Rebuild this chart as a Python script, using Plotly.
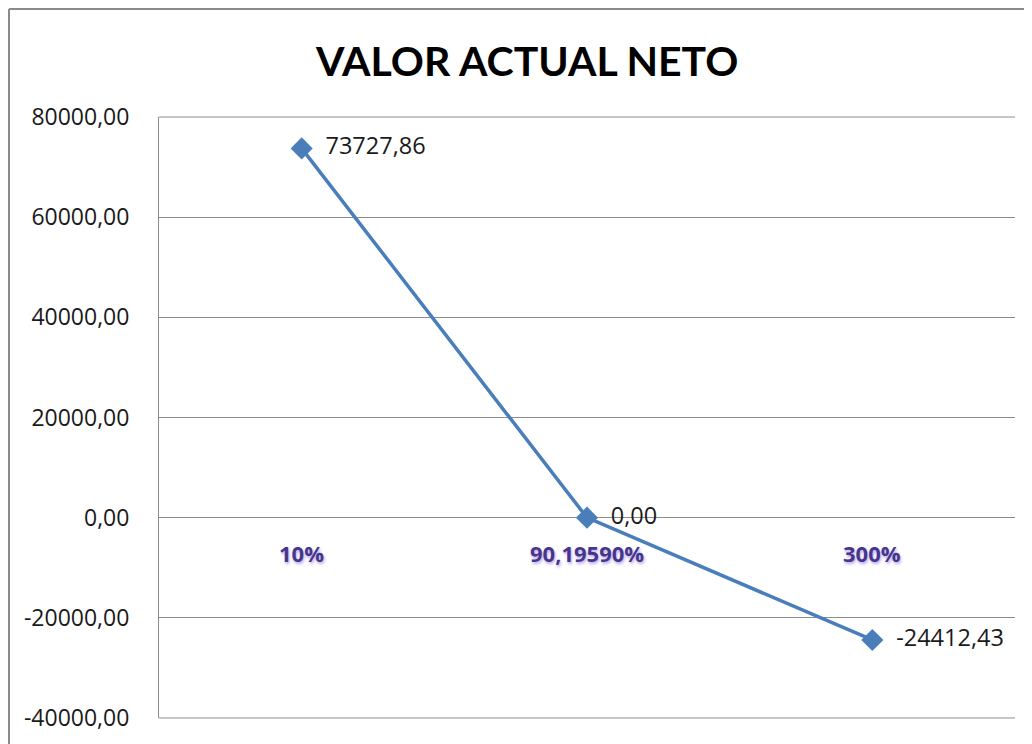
import plotly.graph_objects as go

categories = ["10%", "90,19590%", "300%"]
van_values = [73727.86, 0.00, -24412.43]
y_ticks = [-40000, -20000, 0, 20000, 40000, 60000, 80000]
title_text = "VALOR ACTUAL NETO"

# page has an 8px body margin; figure coordinates = page coordinates - 8
OFF = 8
W, H = 1024, 736
L, R, T, B = 159 - OFF, 17, 117 - OFF, 26
pw, ph = W - L - R, H - T - B

def px_x(p):
    return (p - OFF - L) / pw

def px_y(p):
    return (H - B - (p - OFF)) / ph

FONT = "Open Sans, Noto Sans, sans-serif"
tick_text = [("%.2f" % v).replace(".", ",") for v in y_ticks]

fig = go.Figure()
fig.add_trace(go.Scatter(
    x=categories, y=van_values, mode="lines+markers+text",
    line=dict(color="#4A7EBB", width=3.5),
    marker=dict(symbol="diamond", size=17, color="#4A7EBB"),
    texttemplate="  %{y:.2f}", textposition="middle right",
    textfont=dict(family=FONT, size=23.5, color="#1a1a1a"),
    cliponaxis=False, showlegend=False,
))

for c in categories:
    fig.add_annotation(x=c, y=0, xref="x", yref="y", text="<b>%s</b>" % c,
                       showarrow=False, yshift=-35,
                       font=dict(family=FONT, size=22, color="#45368C",
                                 shadow="1px 2px 3px #b9a6e6"))

fig.add_annotation(x=px_x(526), xref="paper", y=px_y(60), yref="paper", text="<b>%s</b>" % title_text,
                   showarrow=False, xanchor="center", yanchor="middle",
                   font=dict(family="Lato, Open Sans, sans-serif", size=41, color="#000000"))

# outer chart border (left and top)
fig.add_shape(type="line", xref="paper", yref="paper", x0=px_x(9), x1=px_x(9), y0=px_y(9), y1=px_y(760),
              line=dict(color="#8a8a8a", width=2))
fig.add_shape(type="line", xref="paper", yref="paper", x0=px_x(9), x1=px_x(1040), y0=px_y(9), y1=px_y(9),
              line=dict(color="#8a8a8a", width=2))

fig.update_layout(
    width=W, height=H,
    margin=dict(l=L, r=R, t=T, b=B, pad=0),
    paper_bgcolor="white", plot_bgcolor="white",
    separators=",.",
    xaxis=dict(type="category", range=[-0.5, 2.5], showticklabels=False, showgrid=False,
               zeroline=False, showline=False, ticks=""),
    yaxis=dict(range=[-40000, 80000], tickvals=y_ticks, ticktext=tick_text,
               showgrid=True, gridcolor="#8c8c8c", gridwidth=1,
               zeroline=True, zerolinecolor="#8c8c8c", zerolinewidth=1,
               showline=True, linecolor="#8c8c8c", linewidth=1, ticks="", ticklen=0,
               ticklabelstandoff=24,
               tickfont=dict(family=FONT, size=23, color="#1a1a1a")),
    font=dict(family=FONT),
)
fig.add_shape(type="line", xref="paper", yref="paper", x0=0, x1=1, y0=1, y1=1, line=dict(color="#8c8c8c", width=1))
fig.add_shape(type="line", xref="paper", yref="paper", x0=0, x1=1, y0=0, y1=0, line=dict(color="#8c8c8c", width=1))

fig.write_html("out.html")
